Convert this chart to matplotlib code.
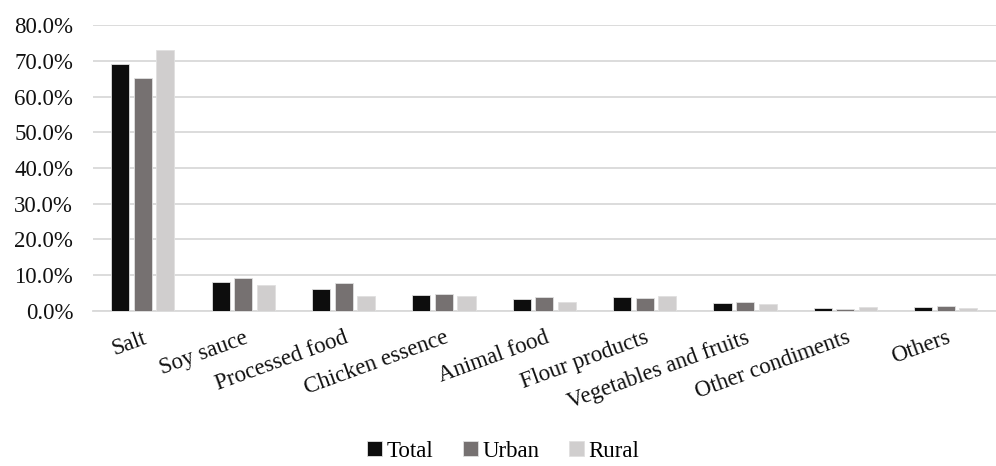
import matplotlib.pyplot as plt
import numpy as np
from matplotlib.ticker import PercentFormatter

categories = ['Salt', 'Soy sauce', 'Processed food', 'Chicken essence', 'Animal food',
              'Flour products', 'Vegetables and fruits', 'Other condiments', 'Others']
total = [69.2, 8.1, 6.0, 4.5, 3.2, 3.9, 2.2, 0.9, 1.2]
urban = [65.3, 9.1, 7.7, 4.8, 4.0, 3.6, 2.6, 0.6, 1.3]
rural = [73.0, 7.2, 4.2, 4.2, 2.4, 4.2, 1.9, 1.2, 0.9]

plt.rcParams['font.family'] = ['Liberation Serif', 'DejaVu Serif']

fig = plt.figure(figsize=(9.96, 4.66), dpi=100)
ax = fig.add_axes([0.093, 0.333, 0.907, 0.613])

x = np.arange(len(categories))
w = 0.225
for i, (vals, name, col) in enumerate([(total, 'Total', '#0d0d0d'),
                                       (urban, 'Urban', '#767171'),
                                       (rural, 'Rural', '#d0cece')]):
    ax.bar(x + (i - 1) * w, vals, width=w * 0.8, color=col, label=name,
           edgecolor='#e0e0e0', linewidth=0.6, zorder=3)

ax.set_xlim(-0.5, len(categories) - 0.5)
ax.set_ylim(0, 80)
ax.set_yticks(np.arange(0, 81, 10))
ax.yaxis.set_major_formatter(PercentFormatter(decimals=1))
ax.grid(axis='y', color='#d9d9d9', linewidth=1.3, zorder=0)
for s in ['top', 'right', 'left']:
    ax.spines[s].set_visible(False)
ax.spines['bottom'].set_color('#d9d9d9')
ax.spines['bottom'].set_linewidth(1.3)
ax.tick_params(axis='both', length=0, labelsize=16.5, colors='#111111')
ax.tick_params(axis='y', pad=14)
ax.tick_params(axis='x', pad=12)
ax.set_xticks(x)
ax.set_xticklabels(categories, rotation=20, ha='right', rotation_mode='anchor')

fig.legend(loc='lower center', ncol=3, frameon=False, fontsize=16.5,
           handlelength=0.65, handleheight=0.65, handletextpad=0.2, columnspacing=1.3,
           bbox_to_anchor=(0.505, -0.035))

fig.savefig('out.png', dpi=100)
